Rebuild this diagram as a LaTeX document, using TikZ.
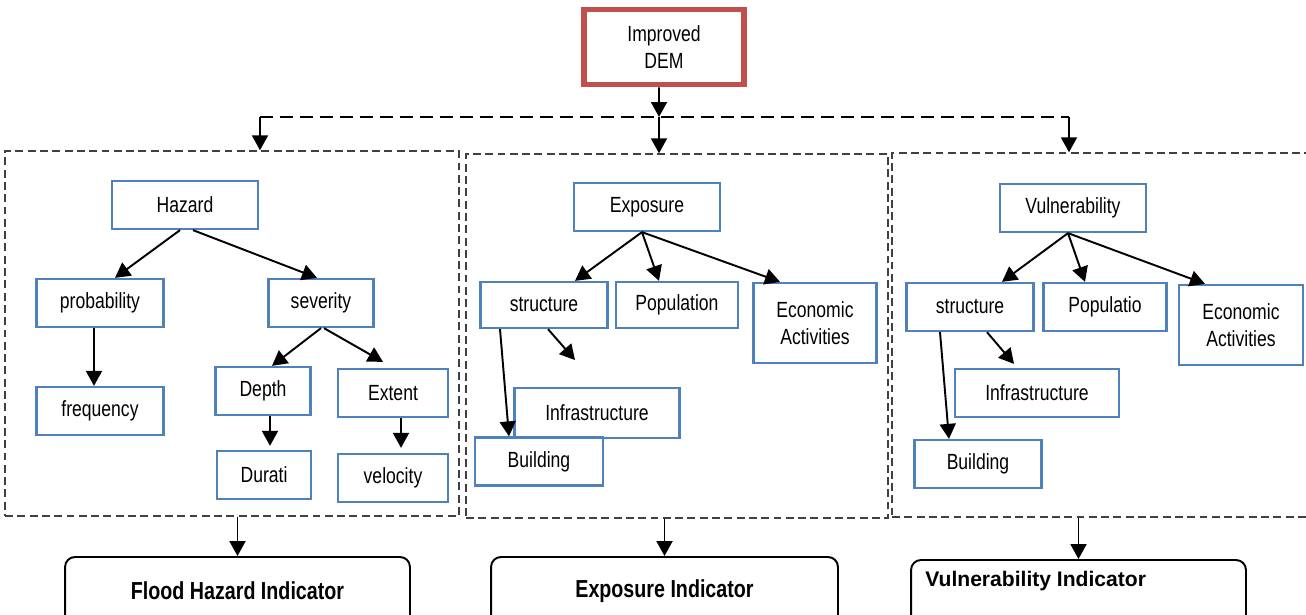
\documentclass[tikz,border=0pt]{standalone}
\usepackage{fontspec}
\setmainfont{Liberation Sans}[FakeStretch=0.8]
\newfontfamily\widesf{Liberation Sans}
\usetikzlibrary{arrows.meta,positioning}
\definecolor{boxblue}{HTML}{4F81BD}
\definecolor{demred}{HTML}{C0504D}
\definecolor{grpgray}{HTML}{404040}

\tikzset{
    item/.style={draw=boxblue, line width=1.3pt, fill=white, minimum height=0.96cm, inner sep=1pt, align=center, font=\fontsize{12.5}{15}\selectfont},
    grp/.style={draw=grpgray, line width=0.85pt, dash pattern=on 4.5pt off 2.5pt, inner sep=0pt},
    ind/.style={draw, line width=1.1pt, rounded corners=0.2cm, minimum height=1.36cm, font=\bfseries\fontsize{14}{16}\selectfont},
    arr/.style={-{Triangle[length=0.3cm,width=0.32cm]}, line width=1.1pt},
    splitline/.style={dash pattern=on 7.4pt off 4pt, line width=1.5pt}
}

\begin{document}
\begin{tikzpicture}[x=0.02cm, y=-0.02cm]
    \useasboundingbox (0,0) rectangle (1306,615);

    % source
    \node[draw=demred, line width=3.4pt, minimum width=3.2cm, minimum height=1.5cm, align=center, font=\fontsize{12.5}{15}\selectfont] (dem) at (664,47) {Improved\\DEM};

    \coordinate (split) at (659,117);
    \coordinate (splitL) at (260,117);
    \coordinate (splitR) at (1069,117);

    % dashed groups
    \node[grp, minimum width=9.08cm, minimum height=7.3cm] (hazgrp) at (232,333.5) {};
    \node[grp, minimum width=8.44cm, minimum height=7.28cm] (expgrp) at (677,336) {};
    \node[grp, minimum width=8.56cm, minimum height=7.28cm] (vulgrp) at (1106,335) {};

    % hazard tree
    \node[item, minimum width=2.92cm] (hazard) at (185,205) {Hazard};
    \node[item, minimum width=2.54cm] (prob) at (100,303) {probability};
    \node[item, minimum width=2.1cm] (sev) at (321,303) {severity};
    \node[item, minimum width=2.54cm] (freq) at (100,411) {frequency};
    \node[item, minimum width=1.9cm] (depth) at (263,391) {Depth};
    \node[item, minimum width=2.2cm] (extent) at (393,393) {Extent};
    \node[item, minimum width=1.88cm] (durati) at (264,475) {Durati};
    \node[item, minimum width=2.2cm] (velo) at (393,478) {velocity};

    % exposure tree
    \node[item, minimum width=2.92cm] (expo) at (647,207) {Exposure};
    \node[item, minimum width=2.54cm, minimum height=0.92cm] (estruct) at (544,305) {structure};
    \node[item, minimum width=2.44cm, minimum height=0.92cm] (epop) at (677,305) {Population};
    \node[item, minimum width=2.46cm, minimum height=1.6cm] (eecon) at (815,323) {Economic\\Activities};
    \node[item, minimum width=3.3cm, minimum height=1cm] (einfra) at (597,413) {Infrastructure};
    \node[item, minimum width=2.56cm] (ebuild) at (539,461.5) {Building};
    \coordinate (einfraend) at (575,360);

    % vulnerability tree
    \node[item, minimum width=2.92cm] (vul) at (1073,208) {Vulnerability};
    \node[item, minimum width=2.54cm] (vstruct) at (970,307) {structure};
    \node[item, minimum width=2.46cm] (vpop) at (1105,307) {Populatio};
    \node[item, minimum width=2.48cm, minimum height=1.6cm] (vecon) at (1241,325) {Economic\\Activities};
    \node[item, minimum width=3.28cm] (vinfra) at (1037,393) {Infrastructure};
    \node[item, minimum width=2.54cm] (vbuild) at (978,464) {Building};

    % indicators
    \node[ind, minimum width=6.9cm] (hazind) at (237.5,591) {Flood Hazard Indicator};
    \node[ind, minimum width=6.94cm] (expind) at (664.5,591) {Exposure Indicator};
    \node[ind, minimum width=6.7cm] (vulind) at (1078.5,594) {};
    \node[anchor=west, inner sep=0pt, font=\widesf\bfseries\fontsize{12}{14}\selectfont] (vulindtext) at (925,581) {Vulnerability Indicator};

    % top split
    \draw[arr] ([xshift=-0.1cm]dem.south) -- (split);
    \draw[splitline] (splitL) -- (splitR);
    \draw[arr] (splitL) -- (splitL |- hazgrp.north);
    \draw[arr] (split) -- (split |- expgrp.north);
    \draw[arr] (splitR) -- (splitR |- vulgrp.north);

    % hazard arrows
    \draw[arr] ([xshift=-0.1cm]hazard.south) -- ([xshift=0.3cm]prob.north);
    \draw[arr] ([xshift=0.16cm]hazard.south) -- ([xshift=-0.08cm]sev.north);
    \draw[arr] ([xshift=-0.12cm]prob.south) -- ([xshift=-0.12cm]freq.north);
    \draw[arr] (sev.south) -- ([xshift=0.18cm]depth.north);
    \draw[arr] ([xshift=0.06cm]sev.south) -- ([xshift=-0.2cm,yshift=0.12cm]extent.north);
    \draw[arr] ([xshift=0.14cm]depth.south) -- ([xshift=0.12cm,yshift=0.08cm]durati.north);
    \draw[arr] ([xshift=0.16cm]extent.south) -- ([xshift=0.16cm,yshift=0.1cm]velo.north);

    % exposure arrows
    \draw[arr] ([xshift=-0.1cm]expo.south) -- ([xshift=0.62cm]estruct.north);
    \draw[arr] ([xshift=-0.1cm]expo.south) -- ([xshift=-0.36cm]epop.north);
    \draw[arr] ([xshift=-0.1cm]expo.south) -- ([xshift=-0.7cm]eecon.north);
    \draw[arr] ([xshift=-0.88cm]estruct.south) -- ([xshift=-0.6cm]ebuild.north);
    \draw[arr] ([xshift=0.08cm]estruct.south) -- (einfraend);

    % vulnerability arrows
    \draw[arr] ([xshift=-0.1cm]vul.south) -- ([xshift=0.64cm]vstruct.north);
    \draw[arr] ([xshift=-0.1cm]vul.south) -- ([xshift=-0.4cm]vpop.north);
    \draw[arr] ([xshift=-0.1cm]vul.south) -- ([xshift=-0.72cm]vecon.north);
    \draw[arr] ([xshift=-0.6cm]vstruct.south) -- ([xshift=-0.58cm]vbuild.north);
    \draw[arr] ([xshift=0.34cm]vstruct.south) -- ([xshift=-0.46cm,yshift=0.08cm]vinfra.north);

    % to indicators
    \draw[arr] (hazgrp.south -| hazind.north) -- (hazind.north);
    \draw[arr] (expgrp.south -| expind.north) -- (expind.north);
    \draw[arr] (vulgrp.south -| vulind.north) -- (vulind.north);
\end{tikzpicture}
\end{document}
